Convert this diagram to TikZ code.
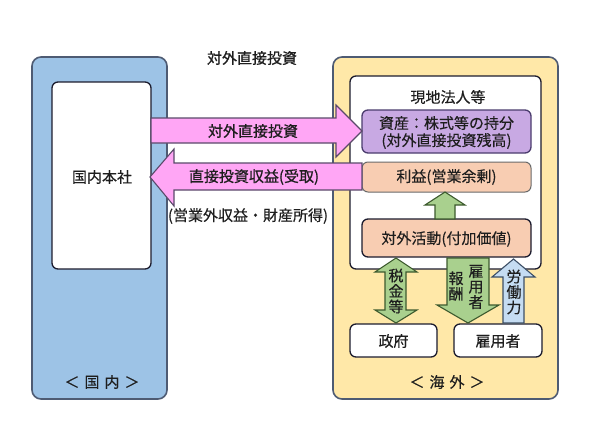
\documentclass[tikz,border=0pt]{standalone}
\usepackage{fontspec}
\setmainfont{Noto Sans CJK JP}[FakeBold=0.25]
\newfontfamily\jpbold{Noto Sans CJK JP}[FakeBold=0.9]
\definecolor{bluefill}{HTML}{9DC3E6}
\definecolor{yellowfill}{HTML}{FFE8A8}
\definecolor{outerline}{HTML}{4E5B73}
\definecolor{inline}{HTML}{1C1C2E}
\definecolor{purplefill}{HTML}{C8A9E3}
\definecolor{purpleline}{HTML}{4B3C6E}
\definecolor{peachfill}{HTML}{F8CDB2}
\definecolor{peachline}{HTML}{6A6A6A}
\definecolor{pinkfill}{HTML}{FFA6F5}
\definecolor{pinkline}{HTML}{5A4A6A}
\definecolor{greenfill}{HTML}{A9D08E}
\definecolor{greenline}{HTML}{3D5A2E}
\definecolor{lbluefill}{HTML}{C5DCF2}
\definecolor{lblueline}{HTML}{3D4F66}
\definecolor{textc}{HTML}{1E1E1E}
\begin{document}
\begin{tikzpicture}[x=1pt,y=-1pt,
  txt/.style={inner sep=0pt, font=\fontsize{15}{16}\selectfont, text=textc},
  btxt/.style={inner sep=0pt, font=\jpbold\fontsize{15}{16}\selectfont, text=textc},
  vtxt/.style={inner sep=0pt, align=center, font=\fontsize{15}{15.5}\selectfont, text=textc},
  outer/.style={draw=outerline, line width=1.6pt, rounded corners=9pt, inner sep=0pt},
  inbox/.style={draw=inline, line width=1.3pt, rounded corners=6pt, fill=white, inner sep=0pt, font=\fontsize{15}{16}\selectfont, text=textc},
  fatarrow/.style={line width=1.1pt, line join=miter}
]
\useasboundingbox (0,0) rectangle (590,442);
\fill[white] (0,0) rectangle (590,442);

% outer regions
\node[outer, fill=bluefill, minimum width=135pt, minimum height=342pt] (dom) at (99.5,228) {};
\node[outer, fill=yellowfill, minimum width=225pt, minimum height=342pt] (ovs) at (445.5,228) {};

% inner boxes
\node[inbox, minimum width=99pt, minimum height=187pt] (hq) at (101.5,175.5) {};
\node[txt] (hqt) at (102,177) {国内本社};
\node[inbox, minimum width=191pt, minimum height=193pt] (loc) at (445.5,172.5) {};
\node[txt] (loct) at (448,97) {現地法人等};
\node[inbox, fill=purplefill, draw=purpleline, minimum width=169pt, minimum height=43pt] (asset) at (446.5,131.5) {};
\node[txt] (asset1) at (446.5,123) {資産：株式等の持分};
\node[txt] (asset2) at (446.5,141) {(対外直接投資残高)};
\node[inbox, fill=peachfill, draw=peachline, line width=1pt, minimum width=169pt, minimum height=30pt] (profit) at (446.5,177) {};
\node[txt] (profitt) at (446.5,177) {利益(営業余剰)};
\node[inbox, fill=peachfill, minimum width=169pt, minimum height=38pt] (act) at (446.5,238) {};
\node[txt] (actt) at (446.5,239) {対外活動(付加価値)};
\node[inbox, minimum width=87pt, minimum height=33pt] (gov) at (393.5,340.5) {};
\node[txt] (govt) at (393.5,341) {政府};
\node[inbox, minimum width=88pt, minimum height=33pt] (emp) at (498,340.5) {};
\node[txt] (empt) at (498,341) {雇用者};

% region labels
\node[txt] (domt) at (102,382) {＜\hspace{5pt}国\hspace{5pt}内\hspace{5pt}＞};
\node[txt] (ovst) at (447,382) {＜\hspace{5pt}海\hspace{5pt}外\hspace{5pt}＞};
\node[btxt] (title) at (252,58) {対外直接投資};

% pink arrows
\draw[fatarrow, draw=pinkline, fill=pinkfill]
  (151,118) -- (336,118) -- (336,105) -- (362,131) -- (336,157) -- (336,143) -- (151,143) -- cycle;
\node[btxt] (fdi) at (253,131) {対外直接投資};
\draw[fatarrow, draw=pinkline, fill=pinkfill]
  (362,163) -- (174,163) -- (174,149) -- (150,177) -- (174,206) -- (174,190) -- (362,190) -- cycle;
\node[btxt] (inc) at (254,177) {直接投資収益(受取)};
\node[txt] (incsub) at (248,216) {(営業外収益・財産所得)};

% green up arrow
\draw[fatarrow, draw=greenline, fill=greenfill]
  (435,219) -- (435,205) -- (425,205) -- (445,192) -- (465,205) -- (455,205) -- (455,219) -- cycle;

% double arrow taxes
\draw[fatarrow, draw=greenline, fill=greenfill]
  (396,258) -- (417,272) -- (406,272) -- (406,310) -- (417,310) -- (396,323) -- (375,310) -- (385,310) -- (385,272) -- (375,272) -- cycle;
\node[vtxt] (tax) at (396,291) {税\\金\\等};

% compensation down arrow
\draw[fatarrow, draw=greenline, fill=greenfill]
  (447,258) -- (489,258) -- (489,305) -- (499,305) -- (468,323) -- (437,305) -- (447,305) -- cycle;
\node[vtxt] (comp1) at (456,286) {報\\酬};
\node[vtxt] (comp2) at (476,287) {雇\\用\\者};

% labor up arrow
\draw[fatarrow, draw=lblueline, fill=lbluefill]
  (503,323) -- (503,277) -- (492,277) -- (513.5,259) -- (535,277) -- (524,277) -- (524,323) -- cycle;
\node[vtxt] (lab) at (514,292) {労\\働\\力};
\end{tikzpicture}
\end{document}
